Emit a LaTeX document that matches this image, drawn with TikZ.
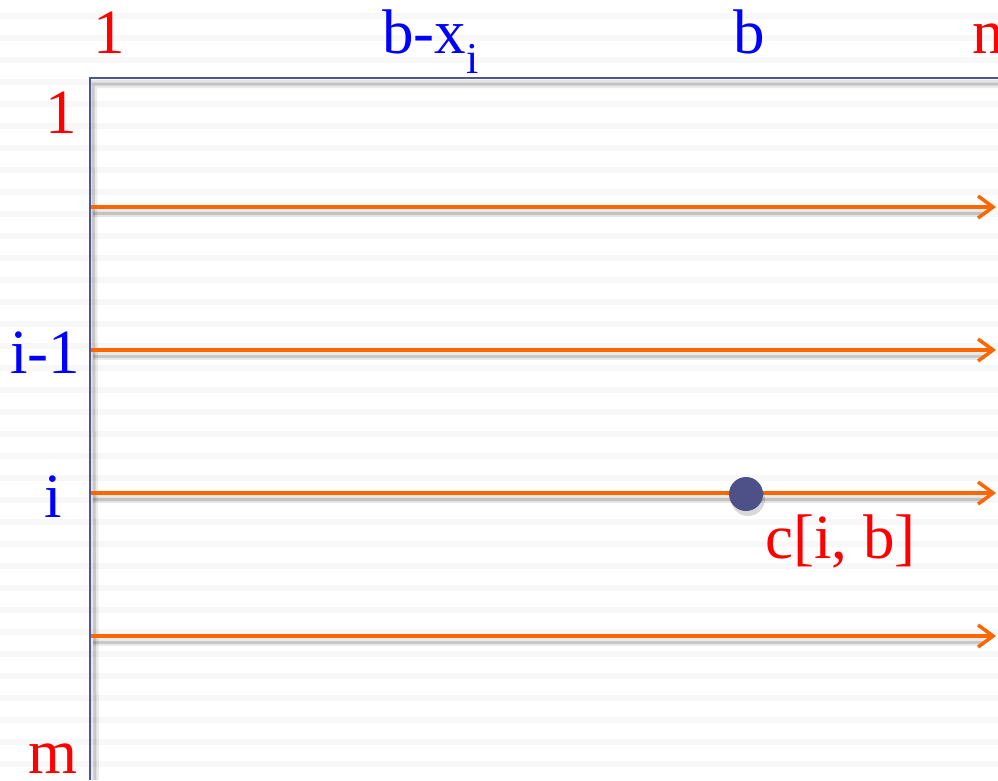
\documentclass[tikz,border=0pt]{standalone}
\usepackage{fontspec}
\setmainfont{Liberation Serif}
\usetikzlibrary{arrows.meta}
\definecolor{frameblue}{HTML}{4F5590}
\definecolor{arrorange}{HTML}{FF6600}
\definecolor{stripegray}{HTML}{F8F8F8}
\definecolor{dotblue}{HTML}{4E5088}
\definecolor{labred}{HTML}{FF0000}
\definecolor{labblue}{HTML}{0000FF}
\begin{document}
\begin{tikzpicture}[x=1pt,y=-1pt,
  lab/.style={inner sep=0pt, anchor=base, font=\fontsize{63}{70}\selectfont},
  framestyle/.style={draw=frameblue, line width=2.5pt},
  shadowstyle/.style={draw=black, opacity=0.08, line width=8pt},
  shadowcore/.style={draw=black, opacity=0.15, line width=3pt},
  rowarrow/.style={draw=arrorange, line width=3.5pt, -{Straight Barb[length=15pt,width=22pt,line width=3.5pt]}}
]
\useasboundingbox (0,0) rectangle (998,780);
% background stripes
\foreach \k in {0,...,35} {
  \fill[stripegray] (0,13+22*\k) rectangle (998,19+22*\k);
}
% frame
\coordinate (tl) at (90,78);
\coordinate (tr) at (998,78);
\coordinate (bl) at (90,780);
\coordinate (tlS) at (93,84);
\coordinate (trS) at (998,84);
\coordinate (blS) at (95,780);
\draw[shadowstyle] (blS) -- (tlS) -- (trS);
\draw[shadowcore] (blS) -- (tlS) -- (trS);
\draw[framestyle] (bl) -- (tl) -- (tr);
% arrows
\foreach \r/\yy in {a/207,b/350,c/493,d/636} {
  \coordinate (s\r) at (91,\yy);
  \coordinate (e\r) at (996,\yy);
  \coordinate (ss\r) at (93,\yy+6);
  \coordinate (se\r) at (985,\yy+6);
  \draw[shadowstyle] (ss\r) -- (se\r);
  \draw[shadowcore] (ss\r) -- (se\r);
  \draw[rowarrow] (s\r) -- (e\r);
}
% dot
\fill[black, opacity=0.15] (748,499) circle (17pt);
\node[circle, fill=dotblue, minimum size=34pt, inner sep=0pt] (dot) at (746,494) {};
% top labels
\node[lab, text=labred] (t1) at (109,53) {1};
\node[lab, text=labblue, anchor=base west] (tbx) at (382,53) {b-x\textsubscript{i}};
\node[lab, text=labblue] (tb) at (749,53) {b};
\node[lab, text=labred, anchor=base west] (tn) at (972,53) {n};
% left labels
\node[lab, text=labred] (l1) at (61,133) {1};
\node[lab, text=labblue] (li1) at (45,373) {i-1};
\node[lab, text=labblue] (li) at (53,517) {i};
\node[lab, text=labred] (lm) at (53,773) {m};
% cell label
\node[lab, text=labred, anchor=base west] (cib) at (765,558) {c[i, b]};
\end{tikzpicture}
\end{document}
